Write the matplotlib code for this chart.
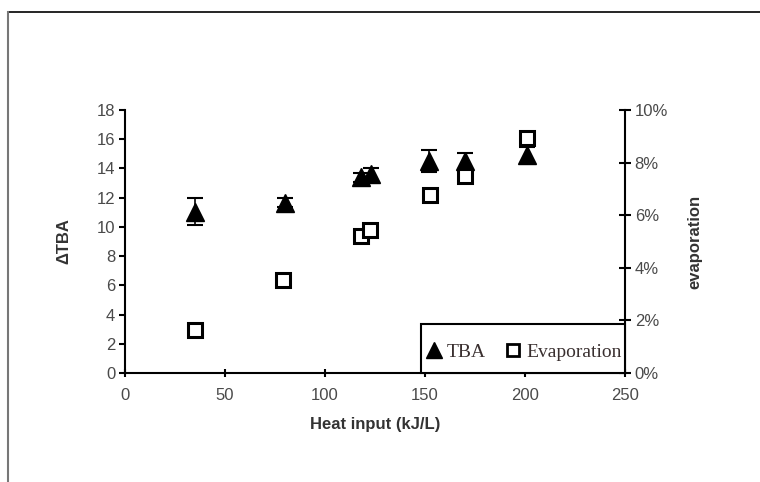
import matplotlib
matplotlib.use('Agg')
import matplotlib.pyplot as plt
from matplotlib.lines import Line2D
from matplotlib.patches import Rectangle
from matplotlib.ticker import FuncFormatter

plt.rcParams['font.family'] = ['Liberation Sans', 'DejaVu Sans']

# Data
heat_tba = [35, 80, 118, 123, 152, 170, 201]
tba = [11.05, 11.65, 13.4, 13.6, 14.5, 14.5, 14.9]
tba_err = [0.9, 0.3, 0.3, 0.4, 0.75, 0.55, 0.55]

heat_evap = [35, 79, 118, 122.5, 152.5, 170, 201]
evap = [0.0163, 0.0354, 0.052, 0.0545, 0.0677, 0.075, 0.0895]

x_ticks = [0, 50, 100, 150, 200, 250]
y_ticks = [0, 2, 4, 6, 8, 10, 12, 14, 16, 18]
y2_ticks = [0, 0.02, 0.04, 0.06, 0.08, 0.10]

tick_color = '#4a4a4a'

fig = plt.figure(figsize=(7.6, 4.82), dpi=100)
ax = fig.add_axes([125 / 760, 1 - 373 / 482, 500 / 760, 263 / 482])
ax2 = ax.twinx()

# TBA with error bars
ax.errorbar(heat_tba, tba, yerr=tba_err, fmt='^', color='black', markersize=13,
            capsize=6, elinewidth=1.2, capthick=1.5, zorder=3)

# evaporation on the right axis
ax2.plot(heat_evap, evap, 's', markersize=10, markerfacecolor='white',
         markeredgecolor='black', markeredgewidth=2.2, zorder=3)

ax.set_xlim(0, 250)
ax.set_ylim(0, 18)
ax2.set_ylim(0, 0.10)
ax.set_xticks(x_ticks)
ax.set_yticks(y_ticks)
ax2.set_yticks(y2_ticks)
ax2.yaxis.set_major_formatter(FuncFormatter(lambda v, p: f'{v * 100:.0f}%'))

for a in (ax, ax2):
    a.spines['top'].set_visible(False)
    for s in a.spines.values():
        s.set_linewidth(1.5)
ax.spines['right'].set_visible(False)
ax2.spines['left'].set_visible(False)
ax2.spines['bottom'].set_visible(False)

ax.tick_params(axis='y', direction='out', length=4, width=1.5, labelsize=12,
               labelcolor=tick_color, pad=3)
ax.tick_params(axis='x', direction='inout', length=6, width=1.5, labelsize=12,
               labelcolor=tick_color, pad=8)
ax2.tick_params(axis='y', direction='inout', length=8, width=1.5, labelsize=12,
                labelcolor=tick_color, pad=3)

ax.set_xlabel('Heat input (kJ/L)', fontsize=12, fontweight='bold', color='#333333', labelpad=10)
ax.set_ylabel('ΔTBA', fontsize=12, fontweight='bold', color='#333333', labelpad=18)
ax2.set_ylabel('evaporation', fontsize=12, fontweight='bold', color='#333333',
               rotation=90, labelpad=14)

# legend box (square-cornered, sitting on the x axis)
box = Rectangle((0.592, 0.0), 0.408, 0.186, transform=ax2.transAxes, facecolor='white',
                edgecolor='black', linewidth=1.5, clip_on=False, zorder=4)
ax2.add_patch(box)

handles = [
    Line2D([], [], marker='^', linestyle='none', color='black', markersize=12),
    Line2D([], [], marker='s', linestyle='none', markerfacecolor='white',
           markeredgecolor='black', markeredgewidth=2, markersize=9),
]
leg = ax2.legend(handles, ['TBA', 'Evaporation'], loc='center',
                 bbox_to_anchor=(0.798, 0.08), ncol=2, frameon=False,
                 handlelength=0.8, handletextpad=0.25, columnspacing=1.0,
                 borderpad=0, prop={'family': 'Liberation Serif', 'size': 14})
leg.set_zorder(5)
for t in leg.get_texts():
    t.set_color('#3a3030')

# outer frame lines of the original figure
fig.add_artist(Line2D([8 / 760, 1], [1 - 12 / 482, 1 - 12 / 482], color='black', linewidth=1.2))
fig.add_artist(Line2D([8 / 760, 8 / 760], [0, 1 - 12 / 482], color='#777777', linewidth=1.5))

fig.savefig('out.png', dpi=100)
